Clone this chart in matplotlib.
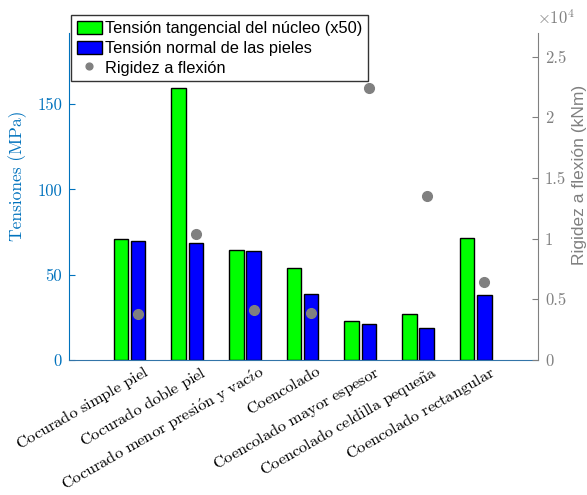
import numpy as np
import matplotlib
matplotlib.use('Agg')
import matplotlib.pyplot as plt
from matplotlib.ticker import FuncFormatter

# datos
categorias = ['Cocurado simple piel', 'Cocurado doble piel', 'Cocurado menor presión y vacío',
              'Coencolado', 'Coencolado mayor espesor', 'Coencolado celdilla pequeña',
              'Coencolado rectangular']
tension_nucleo = [71.0, 159.8, 64.7, 54.0, 23.0, 26.9, 71.6]   # MPa (x50)
tension_pieles = [69.6, 68.6, 63.7, 38.6, 21.0, 18.8, 38.2]    # MPa
rigidez = [3800, 10350, 4150, 3900, 22450, 13500, 6450]         # kNm

AZUL_EJE = '#0072BD'
GRIS = '#808080'
SERIF = ['cmr10', 'DejaVu Serif']
SANS = ['Liberation Sans', 'DejaVu Sans']

plt.rcParams['mathtext.fontset'] = 'cm'
plt.rcParams['axes.unicode_minus'] = False


def _latex(s):
    # texto estilo LaTeX (Computer Modern) con acentos
    rep = {'ó': r'\acute{o}', 'í': r'\acute{\imath}', 'ñ': r'\tilde{n}', ' ': r'\ '}
    return r'$\mathrm{' + ''.join(rep.get(c, c) for c in s) + '}$'


W, H = 587, 495
fig = plt.figure(figsize=(W / 100, H / 100), dpi=100)
ax = fig.add_axes([69 / W, 1 - 360 / H, (538 - 69) / W, (360 - 33) / H])

x = np.arange(1, len(categorias) + 1)
ancho = 0.25
b1 = ax.bar(x - 0.3, tension_nucleo, ancho, color='#00ff00', edgecolor='black', linewidth=1,
            label='Tensión tangencial del núcleo (x50)', zorder=2)
b2 = ax.bar(x, tension_pieles, ancho, color='#0000ff', edgecolor='black', linewidth=1,
            label='Tensión normal de las pieles', zorder=2)
ax.set_xlim(-0.2, 7.93)
ax.set_ylim(0, 1.2 * max(tension_nucleo))
ax.set_yticks([0, 50, 100, 150])

ax2 = ax.twinx()
p, = ax2.plot(x, rigidez, 'o', color=GRIS, markersize=7, label='Rigidez a flexión', zorder=3)
ax2.set_ylim(0, 1.2 * max(rigidez))
ax2.set_yticks([0, 5000, 10000, 15000, 20000, 25000])
ax2.yaxis.set_major_formatter(FuncFormatter(lambda v, pos: f'{v / 1e4:g}'))

# ejes
for a in (ax, ax2):
    a.spines['top'].set_visible(False)
ax.spines['right'].set_visible(False)
ax2.spines['left'].set_visible(False)
ax2.spines['bottom'].set_visible(False)
ax.spines['left'].set_color(AZUL_EJE)
ax.spines['bottom'].set_color('#3274a8')
ax2.spines['right'].set_color(GRIS)

ax.tick_params(axis='y', direction='in', colors=AZUL_EJE, labelsize=12, pad=5, length=4)
ax.tick_params(axis='x', length=0, pad=2)
ax2.tick_params(axis='y', direction='in', colors=GRIS, labelsize=12, pad=5, length=4)
for lab in ax.get_yticklabels() + ax2.get_yticklabels():
    lab.set_family(SERIF)

ax.set_xticks(x + 0.08)
ax.set_xticklabels([_latex(c) for c in categorias], rotation=30, ha='right', va='top',
                   rotation_mode='anchor', fontsize=11.8)

ax.set_ylabel('Tensiones (MPa)', family=SERIF, fontsize=12.5, color=AZUL_EJE,
              rotation=90, va='center', ha='center')
ax.yaxis.set_label_coords(-0.11, 0.563)
ax2.set_ylabel('Rigidez a flexión (kNm)', family=SANS, fontsize=12.5, color=GRIS,
               rotation=90, va='center', ha='center')
ax2.yaxis.set_label_coords(1.088, 0.566)

fig.text(537 / W, 1 - 24 / H, r'$\times10^{4}$', color=GRIS, fontsize=12, ha='left', va='baseline')

leg = ax2.legend(handles=[b1, b2, p], loc='upper left', bbox_to_anchor=(71 / W, 1 - 15 / H),
                 bbox_transform=fig.transFigure, borderaxespad=0, fancybox=False, framealpha=1,
                 edgecolor='#333333', prop={'family': SANS, 'size': 11.8},
                 handlelength=1.55, handleheight=0.85, handletextpad=0.2, borderpad=0.35,
                 labelspacing=0.28, numpoints=1, markerscale=0.7)
leg.get_frame().set_linewidth(1)

fig.savefig('out.png', dpi=100)
